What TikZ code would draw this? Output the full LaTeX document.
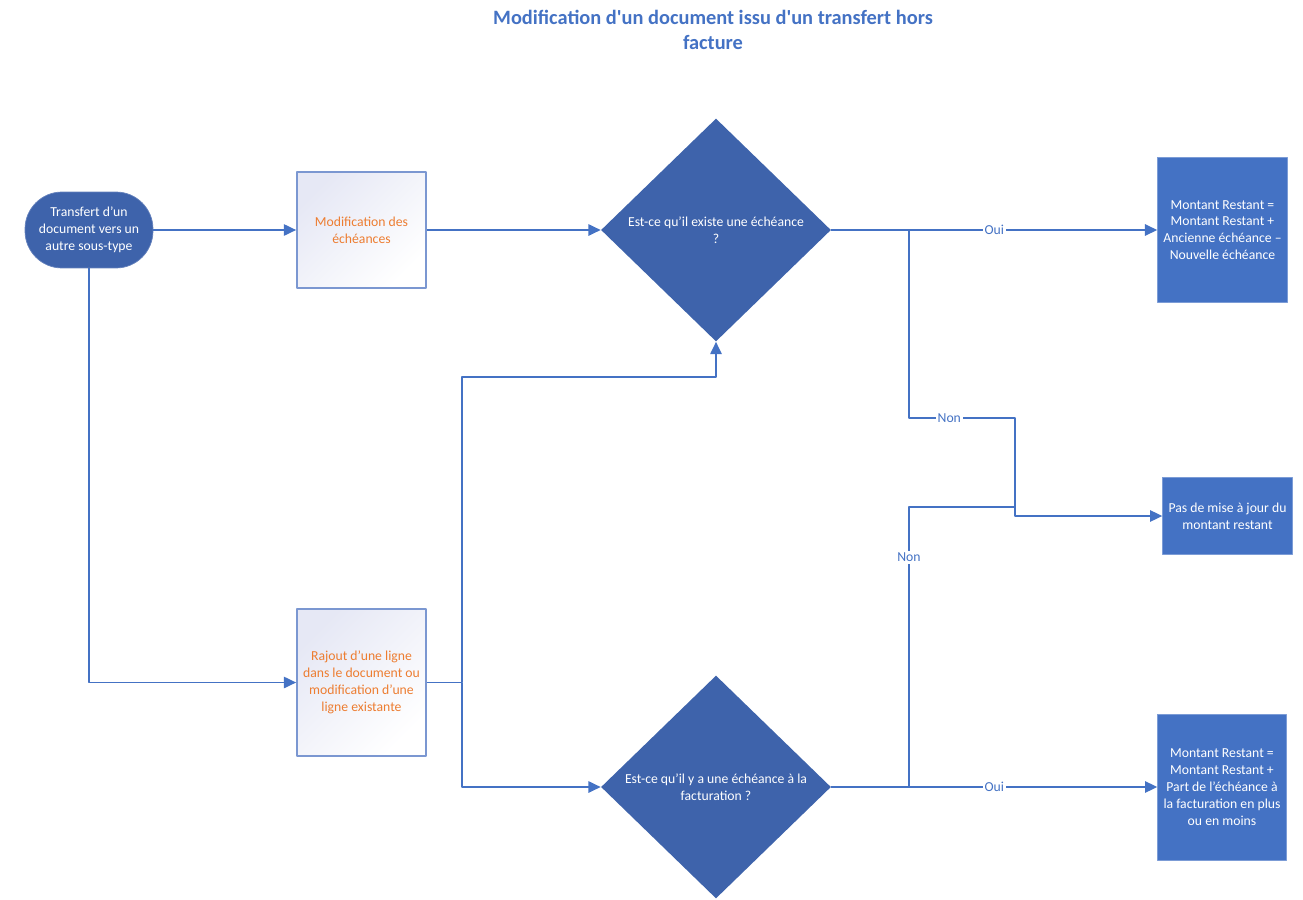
\documentclass[tikz,border=0pt]{standalone}
\usepackage{fontspec}
\setmainfont{Carlito}
\usetikzlibrary{shapes.geometric,arrows.meta,positioning}

\definecolor{LineBlue}{HTML}{4472C4}
\definecolor{DarkBlue}{HTML}{3E63AB}
\definecolor{BoxEdge}{HTML}{7B97D1}
\definecolor{BoxTint}{HTML}{E6E8F5}
\definecolor{TextOrange}{HTML}{ED7D31}

\newcommand{\boxfont}{\fontsize{7.8}{9.6}\selectfont}

\begin{document}
\begin{tikzpicture}[x=0.02cm,y=-0.02cm,line join=round,
  >={Triangle[length=7pt,width=6.5pt]},
  flow/.style={color=LineBlue,line width=0.9pt},
  lbl/.style={fill=white,inner sep=1pt,text=LineBlue,font=\boxfont},
  startbox/.style={rectangle,rounded corners=0.74cm,fill=DarkBlue,draw=DarkBlue!80!white,
    text=white,align=center,font=\boxfont,minimum width=2.56cm,minimum height=1.52cm},
  stepbox/.style={rectangle,draw=BoxEdge,line width=1pt,top color=BoxTint,bottom color=white,
    shading angle=45,text=TextOrange,align=center,font=\boxfont,minimum width=2.58cm},
  decision/.style={diamond,fill=DarkBlue,text=white,align=center,font=\boxfont,inner sep=0pt,
    minimum width=4.6cm,minimum height=4.46cm},
  result/.style={rectangle,fill=LineBlue,draw=LineBlue!70!white,text=white,align=center,
    font=\boxfont,minimum width=2.54cm}]
\useasboundingbox (0,0) rectangle (1303,900);

\node[text=LineBlue,align=center,font=\bfseries\fontsize{11.6}{14.2}\selectfont] (titre) at (713,30)
  {Modification d\textquotesingle un document issu d\textquotesingle un transfert hors\\facture};

\node[startbox] (transfert) at (89,230) {Transfert d’un\\document vers un\\autre sous-type};
\node[stepbox,minimum height=2.32cm] (modif) at (361.5,230) {Modification des\\échéances};
\node[stepbox,minimum height=2.94cm] (rajout) at (361.5,682.5)
  {Rajout d’une ligne\\dans le document ou\\modification d’une\\ligne existante};

\node[decision] (existe) at (716,230) {Est-ce qu’il existe une échéance\\?};
\node[decision] (echfact) at (716,787) {Est-ce qu’il y a une échéance à la\\facturation ?};

\node[result,minimum height=2.9cm] (resA) at (1222.5,230)
  {Montant Restant =\\Montant Restant +\\Ancienne échéance –\\Nouvelle échéance};
\node[result,minimum width=2.58cm,minimum height=1.54cm] (resB) at (1227.5,516)
  {Pas de mise à jour du\\montant restant};
\node[result,minimum height=2.92cm] (resC) at (1222,787)
  {Montant Restant =\\Montant Restant +\\Part de l’échéance à\\la facturation en plus\\ou en moins};

\coordinate (split) at (462,682.5);
\coordinate (up) at (462,377);
\coordinate (nonA) at (909,230);
\coordinate (nonB) at (909,787);
\coordinate (joinA) at (1015,418);
\coordinate (joinB) at (1015,507);

\draw[flow,->] (transfert) -- (modif);
\draw[flow,->] (transfert.south) |- (rajout.west);
\draw[flow,->] (modif) -- (existe);
\draw[flow,->] (rajout.east) -- (split) -- (up) -| (existe.south);
\draw[flow,->] (split) |- (echfact.west);

\draw[flow,->] (existe.east) -- node[lbl]{Oui} (resA.west);
\draw[flow,->] (nonA) |- node[lbl,pos=0.69]{Non} (joinA) |- (resB.west);
\draw[flow] (nonB) |- node[lbl,pos=0.41]{Non} (joinB);
\draw[flow,->] (echfact.east) -- node[lbl]{Oui} (resC.west);

\end{tikzpicture}
\end{document}
